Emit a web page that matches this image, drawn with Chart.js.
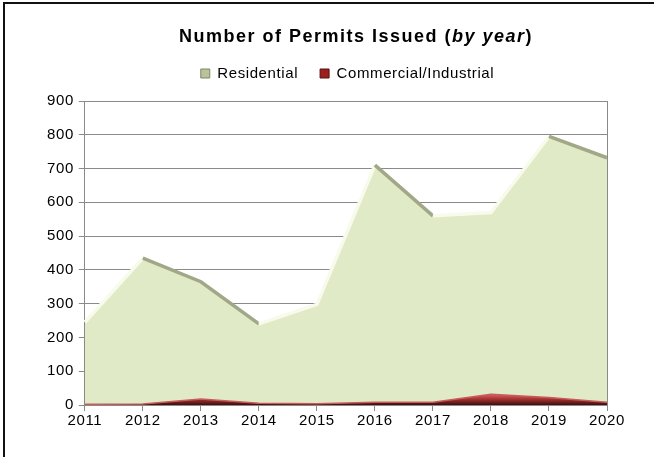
<!DOCTYPE html>
<html>
<head>
<meta charset="utf-8">
<script src="https://cdn.jsdelivr.net/npm/chart.js@4"></script>
<style>
  body { margin: 0; background: #fff; }
  #wrap { position: relative; width: 654px; height: 457px; }
  #frame {
    position: absolute; left: 3px; top: 2px; right: 0; bottom: 0;
    border-left: 2px solid #111; border-top: 2px solid #111;
  }
  #title {
    position: absolute; left: 0; width: 712px; top: 26px;
    text-align: center; font: bold 18px "Liberation Sans", Arial, sans-serif;
    letter-spacing: 1.5px; color: #000;
  }
  canvas { position: absolute; left: 0; top: 0; }
</style>
</head>
<body>
<div id="wrap">
  <div id="frame"></div>
  <canvas id="permitsChart" width="654" height="457"></canvas>
  <div id="title">Number of Permits Issued (<i>by year</i>)</div>
</div>
<script>
const years = ["2011", "2012", "2013", "2014", "2015", "2016", "2017", "2018", "2019", "2020"];
const residential = [245, 435, 365, 240, 298, 710, 560, 570, 795, 732];
const commercial = [2, 3, 18, 5, 4, 8, 8, 32, 22, 8];
const yTicks = [0, 100, 200, 300, 400, 500, 600, 700, 800, 900];

const FONT = "'Liberation Sans', Arial, sans-serif";

// slightly spaced-out lettering for all canvas text
const spacing = {
  id: "spacing",
  beforeUpdate(chart) { chart.ctx.letterSpacing = "0.6px"; },
  beforeDraw(chart) { chart.ctx.letterSpacing = "0.6px"; },
};

// legend: extra gap below the row, nudged right over the plot
const legendGap = {
  id: "legendGap",
  beforeInit(chart) {
    const legend = chart.legend;
    const fit = legend.fit;
    legend.fit = function () {
      fit.call(this);
      this.height += 10;
    };
  },
  afterLayout(chart) {
    chart.legend.left += 23;
    chart.legend.right += 23;
  },
};

// grey frame on the right side of the plot area
const plotEdge = {
  id: "plotEdge",
  afterDatasetsDraw(chart) {
    const { ctx, chartArea } = chart;
    ctx.save();
    ctx.strokeStyle = "#8a8a8a";
    ctx.lineWidth = 1;
    ctx.beginPath();
    ctx.moveTo(chartArea.right + 0.5, chartArea.top);
    ctx.lineTo(chartArea.right + 0.5, chartArea.bottom);
    ctx.stroke();
    ctx.restore();
  },
};

function redFill(context) {
  const chart = context.chart;
  const { ctx, chartArea } = chart;
  if (!chartArea) return "#9c2f2f";
  const y = chart.scales.y;
  const g = ctx.createLinearGradient(0, y.getPixelForValue(35), 0, y.getPixelForValue(0));
  g.addColorStop(0, "#e07070");
  g.addColorStop(0.5, "#a83232");
  g.addColorStop(1, "#3c0e0e");
  return g;
}

const ctx = document.getElementById("permitsChart").getContext("2d");
new Chart(ctx, {
  type: "line",
  data: {
    labels: years,
    datasets: [
      {
        label: "Commercial/Industrial",
        data: commercial,
        order: 0,
        fill: "origin",
        backgroundColor: redFill,
        borderColor: "#c85c5c",
        borderWidth: 1.5,
        pointRadius: 0,
        tension: 0,
      },
      {
        // bevel edge along the top of the residential area
        label: "",
        data: residential,
        order: 1,
        fill: false,
        borderWidth: 3.5,
        borderJoinStyle: "miter",
        segment: {
          borderColor: (c) => (c.p1.parsed.y >= c.p0.parsed.y ? "#f8fbec" : "#a0a888"),
        },
        borderColor: "#f8fbec",
        pointRadius: 0,
        tension: 0,
      },
      {
        label: "Residential",
        data: residential,
        order: 2,
        fill: "origin",
        backgroundColor: "#e0eac6",
        borderWidth: 0,
        pointRadius: 0,
        tension: 0,
      },
    ],
  },
  options: {
    responsive: false,
    animation: false,
    layout: { padding: { top: 44, right: 47, bottom: 26, left: 42 } },
    plugins: {
      tooltip: { enabled: false },
      legend: {
        labels: {
          color: "#000",
          font: { family: FONT, size: 15 },
          boxWidth: 9,
          boxHeight: 9,
          padding: 22,
          generateLabels(chart) {
            const ds = chart.data.datasets;
            return [
              { text: ds[2].label, fillStyle: "#b8c39a", strokeStyle: "#7d876a", lineWidth: 1, datasetIndex: 2 },
              { text: ds[0].label, fillStyle: "#9a1f1f", strokeStyle: "#5a1010", lineWidth: 1, datasetIndex: 0 },
            ];
          },
        },
      },
    },
    scales: {
      x: {
        offset: false,
        grid: {
          drawOnChartArea: false,
          drawTicks: true,
          tickLength: 6,
          color: "#8a8a8a",
        },
        border: { color: "#8a8a8a" },
        ticks: {
          color: "#000",
          font: { family: FONT, size: 15 },
          maxRotation: 0,
          autoSkip: false,
          padding: 1,
        },
      },
      y: {
        min: 0,
        max: 900,
        afterBuildTicks(axis) {
          axis.ticks = yTicks.map((v) => ({ value: v }));
        },
        grid: {
          color: "#8a8a8a",
          tickLength: 6,
        },
        border: { color: "#8a8a8a" },
        ticks: {
          color: "#000",
          font: { family: FONT, size: 15 },
          padding: 5,
        },
      },
    },
  },
  plugins: [spacing, legendGap, plotEdge],
});
</script>
</body>
</html>
